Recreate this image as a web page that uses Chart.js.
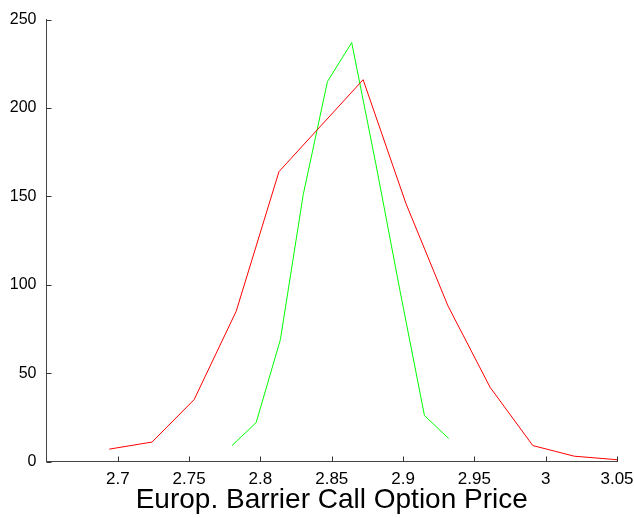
<!DOCTYPE html>
<html>
<head>
<meta charset="utf-8">
<script src="https://cdn.jsdelivr.net/npm/chart.js@4/dist/chart.umd.min.js"></script>
<style>
  html, body { margin: 0; padding: 0; background: #fff; }
  #wrap { width: 634px; height: 518px; }
</style>
</head>
<body>
<div id="wrap"><canvas id="myChart"></canvas></div>
<script>
// valores
const redX = [2.694, 2.724, 2.7535, 2.783, 2.813, 2.8425, 2.872, 2.902, 2.9315, 2.961, 2.991, 3.020, 3.050];
const redY = [7, 11, 35, 85, 164, 190, 216, 146, 88, 42, 9, 3, 1];
const greenX = [2.780, 2.797, 2.814, 2.830, 2.847, 2.864, 2.881, 2.898, 2.915, 2.932];
const greenY = [9, 22, 69, 151, 215, 237, 168, 96, 26, 13];
const xTicks = [2.7, 2.75, 2.8, 2.85, 2.9, 2.95, 3, 3.05];
const yTicks = [0, 50, 100, 150, 200, 250];
const xTitle = 'Europ. Barrier Call Option Price';

const toPoints = (xs, ys) => xs.map((x, i) => ({ x: x, y: ys[i] }));

// ticks hacia dentro, como en matlab
const innerTicks = {
    id: 'innerTicks',
    afterDraw(chart) {
        const ctx = chart.ctx;
        const xs = chart.scales.x;
        const ys = chart.scales.y;
        const len = 5;
        ctx.save();
        ctx.strokeStyle = '#333';
        ctx.lineWidth = 1;
        ctx.beginPath();
        xTicks.forEach(v => {
            const px = Math.round(xs.getPixelForValue(v)) + 0.5;
            ctx.moveTo(px, ys.bottom);
            ctx.lineTo(px, ys.bottom - len);
        });
        yTicks.forEach(v => {
            const py = Math.round(ys.getPixelForValue(v)) + 0.5;
            ctx.moveTo(xs.left, py);
            ctx.lineTo(xs.left + len, py);
        });
        ctx.stroke();
        ctx.restore();
    }
};

const data = {
    datasets: [{
        label: 'red',
        data: toPoints(redX, redY),
        borderColor: 'rgb(255, 0, 0)',
        borderWidth: 1,
        showLine: true,
        pointRadius: 0,
        tension: 0
    }, {
        label: 'green',
        data: toPoints(greenX, greenY),
        borderColor: 'rgb(0, 255, 0)',
        borderWidth: 1,
        showLine: true,
        pointRadius: 0,
        tension: 0
    }]
};

const config = {
    type: 'scatter',
    data: data,
    options: {
        responsive: true,
        maintainAspectRatio: false,
        animation: false,
        layout: {
            padding: { left: 0, right: 17, top: 17, bottom: 0 }
        },
        plugins: {
            legend: { display: false },
            tooltip: { enabled: false }
        },
        scales: {
            x: {
                type: 'linear',
                min: 2.65,
                max: 3.05,
                afterFit: s => {
                    s.height = 56.5;
                    s.paddingLeft = 0;
                    s.paddingRight = 0;
                },
                afterBuildTicks: s => { s.ticks = [2.65].concat(xTicks).map(v => ({ value: v })); },
                grid: { display: false, drawTicks: false },
                border: { display: true, color: '#444', width: 1 },
                ticks: {
                    padding: 8,
                    color: '#000',
                    maxRotation: 0,
                    autoSkip: false,
                    font: { family: 'Liberation Sans', size: 17 },
                    callback: v => (v < 2.66 ? '' : String(Number(v.toFixed(2))))
                },
                title: {
                    display: true,
                    text: xTitle,
                    color: '#000',
                    font: { family: 'Liberation Sans', size: 28 },
                    padding: { top: 0, bottom: 1 }
                }
            },
            y: {
                min: 0,
                max: 250,
                afterFit: s => { s.width = 46.5; },
                afterBuildTicks: s => { s.ticks = yTicks.map(v => ({ value: v })); },
                grid: { display: false, drawTicks: false },
                border: { display: true, color: '#444', width: 1 },
                ticks: {
                    padding: 10,
                    color: '#000',
                    font: { family: 'Liberation Sans', size: 16 }
                }
            }
        }
    },
    plugins: [innerTicks]
};

const myChart = new Chart(document.getElementById('myChart'), config);
</script>
</body>
</html>
